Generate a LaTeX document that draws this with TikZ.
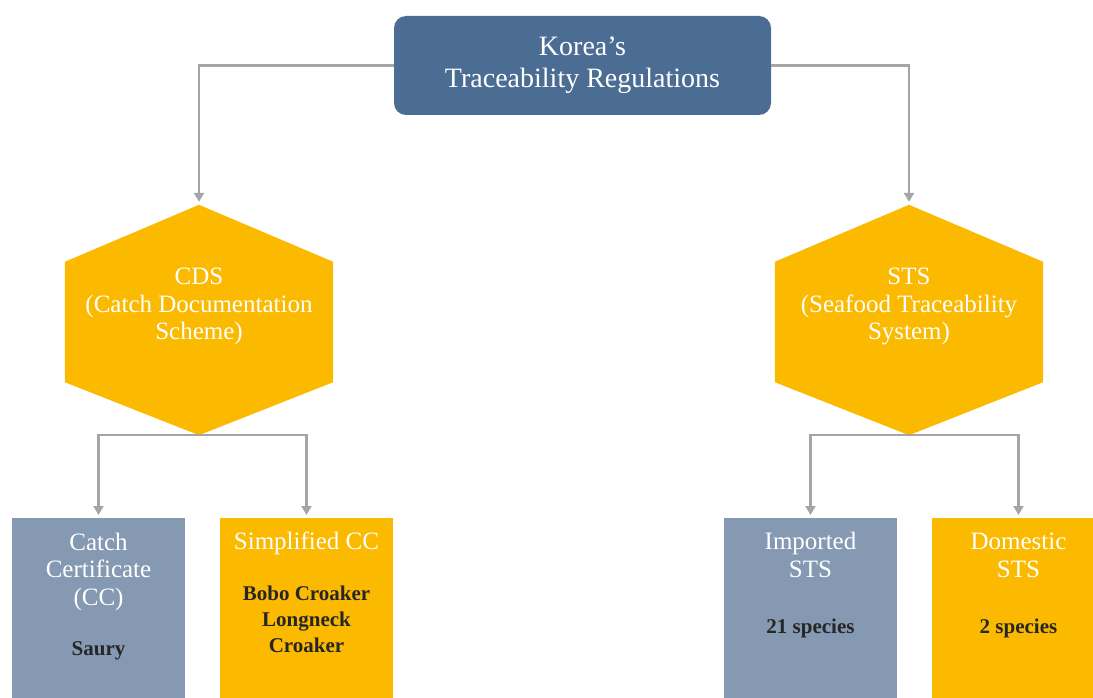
\documentclass[tikz,border=0pt]{standalone}
\usepackage{fontspec}
\setmainfont{Liberation Serif}
\usetikzlibrary{arrows.meta}
\definecolor{krblue}{HTML}{4B6D93}
\definecolor{krgold}{HTML}{FBBA00}
\definecolor{krsteel}{HTML}{8599B2}
\definecolor{krline}{HTML}{A5A5A5}
\definecolor{krdark}{HTML}{262626}

\begin{document}
\begin{tikzpicture}[
    link/.style = {draw = krline, line width = 2.2pt, shorten > = 3pt, -{Triangle[width = 10pt, length = 9pt]}},
    hexbox/.style = {minimum width = 268pt, minimum height = 230pt, inner sep = 0pt},
    panel/.style = {minimum width = 173pt, minimum height = 182pt, inner sep = 0pt, anchor = north},
    whitetxt/.style = {text = white, align = center, font = \fontsize{25}{27.5}\selectfont, inner sep = 0pt},
    darktxt/.style = {text = krdark, align = center, font = \fontsize{21}{26}\selectfont\bfseries, inner sep = 0pt}
]
        \useasboundingbox (0pt, 0pt) rectangle (1093pt, -698pt);

        % Nodes
        \node [fill = krblue, rounded corners = 12pt, minimum width = 377pt, minimum height = 99pt, text = white, align = center, font = \fontsize{28}{32}\selectfont] (kr) at (582.5pt, -65.5pt) {Korea's\\Traceability Regulations};
        \node [hexbox] (cds) at (199pt, -320pt) {};
        \node [hexbox] (sts) at (909pt, -320pt) {};
        \node [panel, fill = krsteel] (catch) at (98.5pt, -518pt) {};
        \node [panel, fill = krgold] (simple) at (306.5pt, -518pt) {};
        \node [panel, fill = krsteel] (imported) at (810.5pt, -518pt) {};
        \node [panel, fill = krgold] (domestic) at (1018.5pt, -518pt) {};

        % Hexagons
        \fill [krgold] (cds.north) -- ([yshift = -57pt]cds.north east) -- ([yshift = 53pt]cds.south east) -- (cds.south) -- ([yshift = 53pt]cds.south west) -- ([yshift = -57pt]cds.north west) -- cycle;
        \fill [krgold] (sts.north) -- ([yshift = -57pt]sts.north east) -- ([yshift = 53pt]sts.south east) -- (sts.south) -- ([yshift = 53pt]sts.south west) -- ([yshift = -57pt]sts.north west) -- cycle;

        % Labels (base = last line)
        \node [whitetxt, anchor = base] (cdstext) at ([yshift = -135pt]cds.north) {CDS\\(Catch Documentation\\Scheme)};
        \node [whitetxt, anchor = base] (ststext) at ([yshift = -135pt]sts.north) {STS\\(Seafood Traceability\\System)};
        \node [whitetxt, anchor = base] (catchhead) at ([yshift = -87pt]catch.north) {Catch\\Certificate\\(CC)};
        \node [darktxt, anchor = base] (catchlist) at ([yshift = -137pt]catch.north) {Saury};
        \node [whitetxt, anchor = base] (simplehead) at ([yshift = -31pt]simple.north) {Simplified CC};
        \node [darktxt, anchor = base] (simplelist) at ([yshift = -134pt]simple.north) {Bobo Croaker\\Longneck\\Croaker};
        \node [whitetxt, anchor = base] (importedhead) at ([yshift = -59pt]imported.north) {Imported\\STS};
        \node [darktxt, anchor = base] (importedlist) at ([yshift = -115pt]imported.north) {21 species};
        \node [whitetxt, anchor = base] (domestichead) at ([yshift = -59pt]domestic.north) {Domestic\\STS};
        \node [darktxt, anchor = base] (domesticlist) at ([yshift = -115pt]domestic.north) {2 species};

        % Lines
        \draw [link] (kr.west) -| (cds.north);
        \draw [link] (kr.east) -| (sts.north);
        \draw [link] (cds.south) -| (catch.north);
        \draw [link] (cds.south) -| (simple.north);
        \draw [link] (sts.south) -| (imported.north);
        \draw [link] (sts.south) -| (domestic.north);

    \end{tikzpicture}
\end{document}
